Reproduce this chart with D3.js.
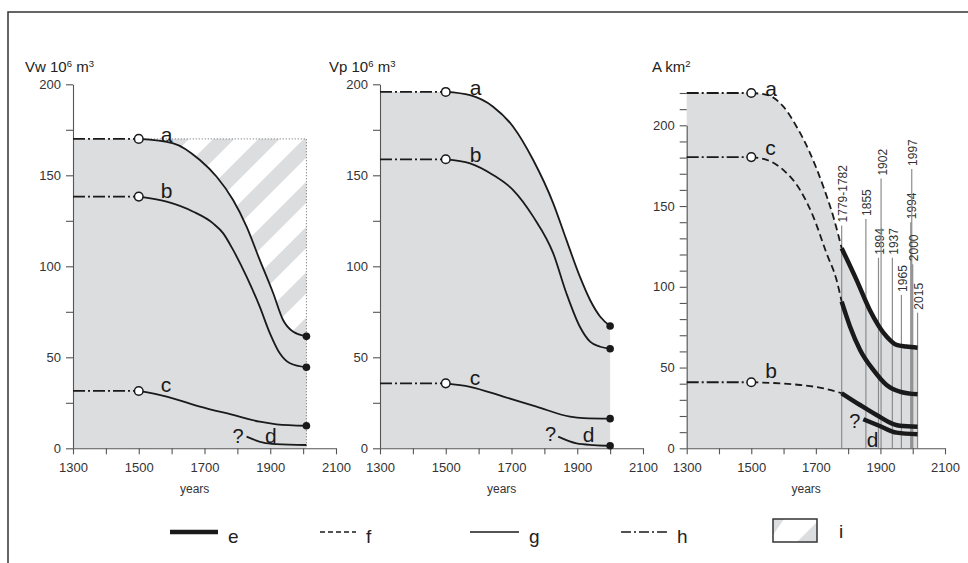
<!DOCTYPE html>
<html>
<head>
<meta charset="utf-8">
<script src="https://cdn.jsdelivr.net/npm/d3@7"></script>
<style>
  body { margin: 0; background: #fff; }
  svg { display: block; font-family: "Liberation Sans", Arial, sans-serif; }
</style>
</head>
<body>
<svg width="968" height="563"></svg>
<script>
// values, [year, value]
// Vw 10^6 m3
const vwA = [[1500, 170], [1605, 167.6], [1686, 158.4], [1737, 149.2], [1787, 136.4], [1828, 121.8], [1868, 103.5], [1909, 85.2], [1939, 70.5], [1970, 64], [2010, 61.5]];
const vwB = [[1500, 138.3], [1585, 135.5], [1666, 130], [1726, 123.6], [1757, 118.1], [1787, 109], [1828, 94.3], [1868, 77.8], [1899, 63.2], [1929, 52.2], [1960, 46.7], [2010, 44.5]];
const vwC = [[1500, 31.5], [1585, 28.4], [1686, 22.9], [1787, 18.3], [1868, 14.6], [1919, 13.2], [2010, 12.4]];
const vwD = [[1828, 6.4], [1879, 3.1], [1919, 2.3], [2010, 1.8]];
const vwRef = 170;

// Vp 10^6 m3
const vpA = [[1500, 195.8], [1574, 194], [1644, 187.7], [1705, 176.7], [1766, 158.4], [1827, 134.6], [1867, 114.5], [1908, 94.3], [1939, 81.5], [1970, 72.3], [2000, 67.2]];
const vpB = [[1500, 158.8], [1574, 156.6], [1644, 150.2], [1705, 141.9], [1766, 127.3], [1827, 107.1], [1867, 85.2], [1908, 66.8], [1939, 58.6], [1970, 55.8], [2000, 54.7]];
const vpC = [[1500, 35.7], [1574, 33.8], [1675, 28.4], [1776, 22.9], [1878, 17.4], [1920, 16.6], [2000, 16.3]];
const vpD = [[1842, 6.4], [1898, 2.7], [1950, 1.8], [2000, 1.4]];

// A km2 (reconstructed part dashed, surveyed part thick)
const arA = [[1500, 220], [1548, 218.9], [1599, 211.7], [1640, 199.3], [1682, 182.8], [1723, 162.1], [1754, 143.5], [1780, 123.9]];
const arAobs = [[1780, 123.9], [1826, 104.3], [1867, 85.7], [1919, 69.2], [1950, 64], [1980, 63], [2015, 62.3]];
const arC = [[1500, 180.3], [1548, 178.6], [1599, 172.4], [1651, 160], [1692, 143.5], [1733, 120.8], [1764, 104.3], [1780, 90.8]];
const arCobs = [[1780, 90.8], [1806, 75.3], [1837, 60.9], [1878, 48.5], [1919, 39.2], [1960, 35.1], [2015, 33.4]];
const arB = [[1500, 40.9], [1651, 39.2], [1720, 37.3], [1780, 34.1]];
const arBobs = [[1780, 34.1], [1837, 26.8], [1888, 20.6], [1940, 15], [1960, 14], [2015, 13.4]];
const arDobs = [[1847, 18], [1898, 13.8], [1950, 9.7], [2015, 8.7]];

// survey years in the area panel
const surveyYears = [1780, 1855, 1894, 1902, 1937, 1965, 1994, 1997, 2000, 2015];
const surveyLabels = ["1779-1782", "1855", "1894", "1902", "1937", "1965", "1994", "1997", "2000", "2015"];
const surveyTops = [138, 142, 118, 167, 118, 95, 140, 173, 114, 84];

// axes
const xTickValues = [1300, 1400, 1500, 1600, 1700, 1800, 1900, 2000, 2100];
const xTickLabels = [1300, 1500, 1700, 1900, 2100];
const yTickLabels = [0, 50, 100, 150, 200];

const legendKeys = ["e", "f", "g", "h", "i"];

const svg = d3.select("svg");
const gray = "#dcdddf";
const ink = "#1a1a1a";
const axisColor = "#555";
const dashDot = "12,3,2,3";

// hatch pattern
const defs = svg.append("defs");
const pat = defs.append("pattern")
  .attr("id", "hatch")
  .attr("patternUnits", "userSpaceOnUse")
  .attr("width", 32).attr("height", 32)
  .attr("patternTransform", "rotate(45)");
pat.append("rect").attr("width", 32).attr("height", 32).attr("fill", gray);
pat.append("rect").attr("x", 8).attr("width", 17).attr("height", 32).attr("fill", "#fff");

// frame
svg.append("path")
  .attr("d", "M8,563V12H968")
  .attr("fill", "none").attr("stroke", "#333").attr("stroke-width", 1.5);

const panels = [
  {
    title: [["Vw 10", 0], ["6", 1], [" m", 0], ["3", 1]], tx: 25,
    left: 73, right: 336, y200: 84.3, yTicks: d3.range(0, 201, 25),
    end: 2010, labelDx: 22, hatch: vwRef,
    series: [
      { pts: vwA, label: "a", ly: 3, dot: true },
      { pts: vwB, label: "b", ly: 1, dot: true },
      { pts: vwC, label: "c", ly: 1, dot: true }
    ],
    d: { pts: vwD, dot: false, q: [-3, 6], dl: [1884, 443] }
  },
  {
    title: [["Vp 10", 0], ["6", 1], [" m", 0], ["3", 1]], tx: 329,
    left: 380, right: 643, y200: 84.3, yTicks: d3.range(0, 201, 25),
    end: 2000, labelDx: 24, hatch: null,
    series: [
      { pts: vpA, label: "a", ly: 3, dot: true },
      { pts: vpB, label: "b", ly: 3, dot: true },
      { pts: vpC, label: "c", ly: 2, dot: true }
    ],
    d: { pts: vpD, dot: true, q: [-2, 4], dl: [1917, 442] }
  },
  {
    title: [["A km", 0], ["2", 1]], tx: 652,
    left: 686.7, right: 945, y200: 125.3, yTicks: d3.range(0, 221, 10),
    end: 2015, labelDx: 14, hatch: null,
    series: [
      { pts: arA, obs: arAobs, label: "a", ly: 3 },
      { pts: arC, obs: arCobs, label: "c", ly: -2 },
      { pts: arB, obs: arBobs, label: "b", ly: -4 }
    ],
    d: { pts: arDobs, dot: false, thick: true, q: [-3, 9], dl: [1858, 447] }
  }
];

panels.forEach(p => {
  const x = d3.scaleLinear().domain([1300, 2100]).range([p.left, p.right]);
  const y = d3.scaleLinear().domain([0, 200]).range([448.3, p.y200]);
  const g = svg.append("g");
  const line = d3.line().x(d => x(d[0])).y(d => y(d[1])).curve(d3.curveMonotoneX);
  const area = d3.area().x(d => x(d[0])).y0(y(0)).y1(d => y(d[1])).curve(d3.curveMonotoneX);

  // shaded area under the top curve
  const top = p.series[0];
  const topPts = [[1300, top.pts[0][1]]].concat(top.pts, top.obs ? top.obs.slice(1) : []);

  if (p.hatch) {
    g.append("rect")
      .attr("x", x(1300)).attr("y", y(p.hatch))
      .attr("width", x(p.end) - x(1300)).attr("height", y(0) - y(p.hatch))
      .attr("fill", "url(#hatch)");
  }
  g.append("path").attr("d", area(topPts)).attr("fill", gray);
  if (p.hatch) {
    g.append("path")
      .attr("d", `M${x(1500)},${y(p.hatch)}H${x(p.end)}V${y(0)}`)
      .attr("fill", "none").attr("stroke", "#666")
      .attr("stroke-width", 1).attr("stroke-dasharray", "1,2");
  }

  // survey year lines
  if (p.series[0].obs) {
    surveyYears.forEach((yr, i) => {
      g.append("line")
        .attr("x1", x(yr)).attr("x2", x(yr))
        .attr("y1", y(0)).attr("y2", y(surveyTops[i]))
        .attr("stroke", "#8c8c8c").attr("stroke-width", 1.2);
      g.append("text")
        .attr("transform", `translate(${x(yr) + 5.5},${y(surveyTops[i]) - 3}) rotate(-90)`)
        .attr("font-size", 12).attr("fill", "#333")
        .text(surveyLabels[i]);
    });
  }

  // axes
  const yAxis = g.append("g")
    .attr("transform", `translate(${x(1300)},0)`)
    .call(d3.axisLeft(y).tickValues(p.yTicks).tickSize(7).tickSizeOuter(0).tickPadding(5)
      .tickFormat(d => yTickLabels.includes(d) ? d : ""));
  const xAxis = g.append("g")
    .attr("transform", `translate(0,${y(0)})`)
    .call(d3.axisBottom(x).tickValues(xTickValues).tickSize(6).tickSizeOuter(0).tickPadding(8)
      .tickFormat(d => xTickLabels.includes(d) ? d : ""));
  [yAxis, xAxis].forEach(a => {
    a.attr("font-family", null).attr("font-size", 13);
    a.selectAll("path, line").attr("stroke", axisColor).attr("stroke-width", 1.1);
    a.selectAll("text").attr("fill", "#333");
  });
  g.append("text")
    .attr("x", x(1670)).attr("y", 493)
    .attr("text-anchor", "middle").attr("font-size", 12).attr("fill", "#333")
    .text("years");

  // title
  const t = g.append("text").attr("x", p.tx).attr("y", 72).attr("font-size", 15).attr("fill", "#222");
  p.title.forEach(([s, sup], i) => {
    t.append("tspan")
      .attr("font-size", sup ? 9.5 : 15)
      .attr("dy", sup ? -5 : (i === 0 ? 0 : 5))
      .text(s);
  });

  // series
  p.series.forEach(s => {
    const v0 = s.pts[0][1];
    g.append("path")
      .attr("d", d3.line().x(d => x(d[0])).y(d => y(d[1]))([[1300, v0], [1500, v0]]))
      .attr("fill", "none").attr("stroke", ink).attr("stroke-width", 1.8)
      .attr("stroke-dasharray", dashDot);
    g.append("path")
      .attr("d", line(s.pts))
      .attr("fill", "none").attr("stroke", ink).attr("stroke-width", 1.8)
      .attr("stroke-dasharray", s.obs ? "7,4" : null);
    if (s.obs) {
      g.append("path")
        .attr("d", line(s.obs))
        .attr("fill", "none").attr("stroke", ink).attr("stroke-width", 4.5);
    }
    if (s.dot) {
      const last = s.pts[s.pts.length - 1];
      g.append("circle").attr("cx", x(last[0])).attr("cy", y(last[1])).attr("r", 3.8).attr("fill", ink);
    }
    g.append("circle")
      .attr("cx", x(1500)).attr("cy", y(v0)).attr("r", 4.3)
      .attr("fill", "#fff").attr("stroke", ink).attr("stroke-width", 1.5);
    g.append("text")
      .attr("x", x(1500) + p.labelDx).attr("y", y(v0) + s.ly)
      .attr("font-size", 21).attr("fill", ink)
      .text(s.label);
  });

  // series d
  const d = p.d;
  g.append("path")
    .attr("d", line(d.pts))
    .attr("fill", "none").attr("stroke", ink).attr("stroke-width", d.thick ? 4.5 : 1.8);
  if (d.dot) {
    const last = d.pts[d.pts.length - 1];
    g.append("circle").attr("cx", x(last[0])).attr("cy", y(last[1])).attr("r", 3.8).attr("fill", ink);
  }
  const s0 = d.pts[0];
  g.append("text")
    .attr("x", x(s0[0]) + d.q[0]).attr("y", y(s0[1]) + d.q[1])
    .attr("text-anchor", "end").attr("font-size", 20).attr("fill", ink)
    .text("?");
  g.append("text")
    .attr("x", x(d.dl[0])).attr("y", d.dl[1])
    .attr("font-size", 21).attr("fill", ink)
    .text("d");
});

// legend
const legend = svg.append("g");
const keyX = [170, 320, 470, 621, 773];
legendKeys.forEach((k, i) => {
  const x0 = keyX[i];
  if (k === "i") {
    const b = legend.append("g").attr("transform", `translate(${x0},519)`);
    b.append("rect").attr("width", 44).attr("height", 23).attr("fill", gray);
    b.append("path").attr("d", "M11,0H44V3L24,23H0V16Z").attr("fill", "#fff");
    b.append("rect").attr("width", 44).attr("height", 23)
      .attr("fill", "none").attr("stroke", "#333").attr("stroke-width", 1.5);
    legend.append("text").attr("x", x0 + 66).attr("y", 538)
      .attr("font-size", 19).attr("fill", "#222").text(k);
    return;
  }
  const style = {
    e: { w: 4.5, dash: null, len: 48 },
    f: { w: 1.4, dash: "5,3", len: 36 },
    g: { w: 1.4, dash: null, len: 49 },
    h: { w: 1.4, dash: "10,3,2,3", len: 46 }
  }[k];
  legend.append("line")
    .attr("x1", x0).attr("x2", x0 + style.len)
    .attr("y1", 532).attr("y2", 532)
    .attr("stroke", ink).attr("stroke-width", style.w)
    .attr("stroke-dasharray", style.dash);
  legend.append("text").attr("x", x0 + style.len + 10).attr("y", 543)
    .attr("font-size", 19).attr("fill", "#222").text(k);
});
</script>
</body>
</html>
